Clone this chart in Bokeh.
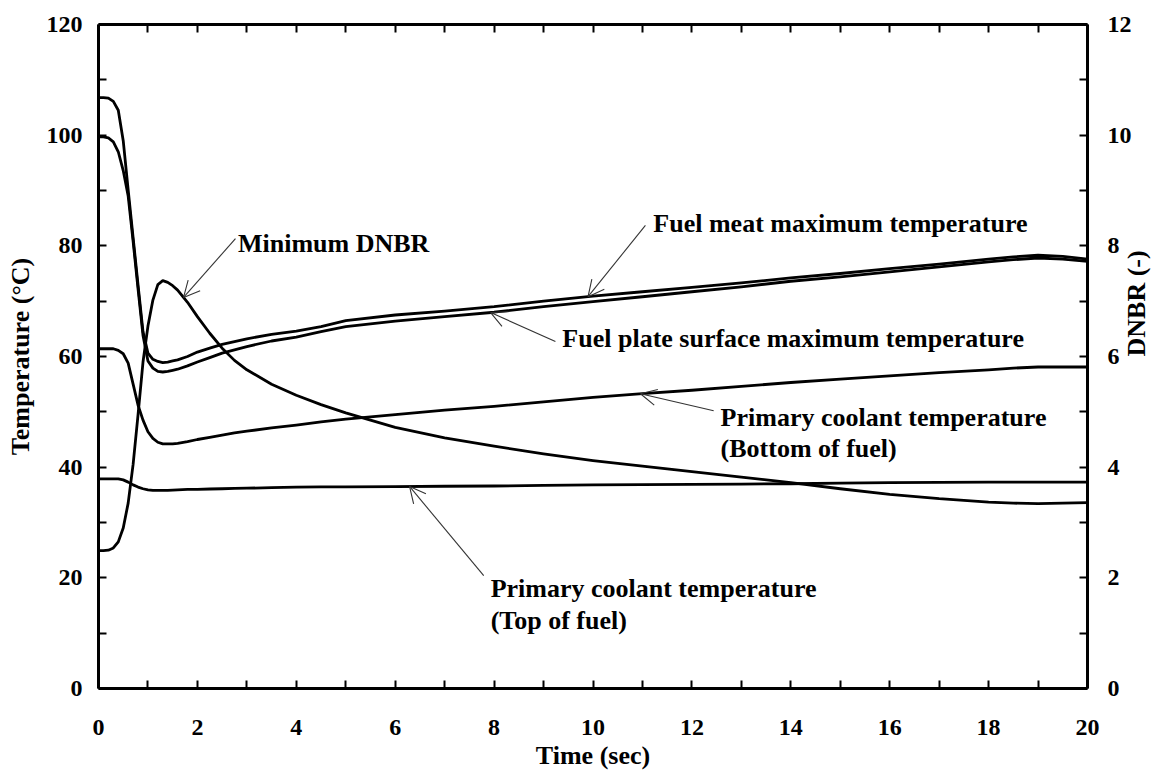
import math
import numpy as np
from bokeh.plotting import figure
from bokeh.models import Range1d, LinearAxis, FixedTicker, Label, Arrow, OpenHead
from bokeh.embed import file_html
from bokeh.resources import INLINE

# ---- transient data -------------------------------------------------------
time_s = [0, 0.1, 0.2, 0.3, 0.4, 0.5, 0.6, 0.7, 0.8, 0.9, 1.0, 1.1, 1.2, 1.3,
          1.4, 1.5, 1.6, 1.8, 2.0, 2.25, 2.5, 2.75, 3.0, 3.5, 4.0, 4.5, 5, 6,
          7, 8, 9, 10, 11, 12, 13, 14, 15, 16, 17, 18, 18.5, 19, 19.5, 20]

fuel_meat_max = [106.8, 106.8, 106.7, 106.1, 104.5, 99.0, 90.1, 81.5, 72.9,
                 64.5, 60.6, 59.5, 59.1, 58.9, 59.0, 59.2, 59.4, 60.0, 60.8,
                 61.5, 62.2, 62.7, 63.2, 64.0, 64.6, 65.4, 66.5, 67.5, 68.2,
                 69.0, 70.0, 70.9, 71.7, 72.5, 73.3, 74.2, 75.0, 75.9, 76.7,
                 77.6, 78.0, 78.3, 78.1, 77.6]

fuel_plate_surface_max = [99.7, 99.7, 99.5, 98.8, 97.0, 93.6, 89.0, 80.8, 72.2,
                          63.8, 59.2, 57.9, 57.3, 57.2, 57.3, 57.5, 57.7, 58.3,
                          59.0, 59.8, 60.6, 61.2, 61.8, 62.8, 63.5, 64.5, 65.4,
                          66.4, 67.2, 68.0, 69.0, 69.9, 70.8, 71.7, 72.6, 73.6,
                          74.4, 75.3, 76.2, 77.1, 77.5, 77.8, 77.6, 77.2]

coolant_bottom = [61.4, 61.4, 61.4, 61.4, 61.1, 60.5, 58.8, 55.0, 51.2, 48.5,
                  46.4, 45.2, 44.5, 44.2, 44.2, 44.2, 44.3, 44.6, 45.0, 45.4,
                  45.8, 46.2, 46.5, 47.1, 47.6, 48.2, 48.7, 49.5, 50.3, 51.0,
                  51.8, 52.6, 53.3, 53.9, 54.6, 55.3, 55.9, 56.5, 57.1, 57.6,
                  57.9, 58.1, 58.1, 58.1]

coolant_top = [37.9, 37.9, 37.9, 37.9, 37.9, 37.7, 37.3, 36.8, 36.4, 36.1,
               35.9, 35.8, 35.8, 35.8, 35.8, 35.85, 35.9, 36.0, 36.0, 36.05,
               36.1, 36.15, 36.2, 36.3, 36.4, 36.45, 36.45, 36.5, 36.55, 36.6,
               36.7, 36.8, 36.85, 36.9, 36.95, 37.0, 37.1, 37.2, 37.25, 37.3,
               37.3, 37.3, 37.3, 37.3]

min_dnbr = [2.49, 2.49, 2.50, 2.54, 2.65, 2.90, 3.35, 4.05, 4.95, 5.90, 6.55,
            7.02, 7.30, 7.37, 7.34, 7.28, 7.20, 6.98, 6.72, 6.42, 6.15, 5.93,
            5.76, 5.50, 5.30, 5.13, 4.98, 4.72, 4.53, 4.38, 4.24, 4.12, 4.02,
            3.92, 3.82, 3.72, 3.61, 3.51, 3.43, 3.37, 3.35, 3.34, 3.35, 3.36]

temp_ticks = [0, 20, 40, 60, 80, 100, 120]
temp_minor = [10, 30, 50, 70, 90, 110]
time_ticks = [0, 2, 4, 6, 8, 10, 12, 14, 16, 18, 20]
time_minor = [1, 3, 5, 7, 9, 11, 13, 15, 17, 19]
time_all = list(range(21))
dnbr_ticks = [0, 2, 4, 6, 8, 10, 12]
dnbr_minor = [1, 3, 5, 7, 9, 11]

FONT = "Liberation Serif"

# ---- figure ---------------------------------------------------------------
p = figure(width=1169, height=772, x_range=Range1d(0, 20), y_range=Range1d(0, 120),
           output_backend="svg", toolbar_location=None,
           min_border_left=98, min_border_right=82,
           min_border_top=24, min_border_bottom=84)
p.extra_y_ranges = {"dnbr": Range1d(0, 12)}
p.xgrid.visible = False
p.ygrid.visible = False
p.outline_line_color = None
p.background_fill_color = "white"
p.border_fill_color = "white"


def style_axis(ax, standoff):
    ax.axis_line_width = 3
    ax.axis_line_color = "black"
    ax.major_tick_in = 8
    ax.major_tick_out = 0
    ax.minor_tick_in = 8
    ax.minor_tick_out = 0
    ax.major_tick_line_width = 2
    ax.minor_tick_line_width = 2
    ax.major_tick_line_color = "black"
    ax.minor_tick_line_color = "black"
    ax.major_label_standoff = standoff
    ax.major_label_text_font = FONT
    ax.major_label_text_font_style = "bold"
    ax.major_label_text_color = "black"
    ax.major_label_text_font_size = "24px"
    ax.axis_label_text_font = FONT
    ax.axis_label_text_font_style = "bold"
    ax.axis_label_text_font_size = "26px"
    ax.axis_label_text_color = "black"


xb = p.xaxis[0]
xb.ticker = FixedTicker(ticks=time_ticks, minor_ticks=time_minor)
style_axis(xb, 31)
xb.axis_label = "Time (sec)"
xb.axis_label_standoff = 3

yl = p.yaxis[0]
yl.ticker = FixedTicker(ticks=temp_ticks, minor_ticks=temp_minor)
style_axis(yl, 16)
yl.axis_label = "Temperature (°C)"
yl.axis_label_standoff = 9

yr = LinearAxis(y_range_name="dnbr",
                ticker=FixedTicker(ticks=dnbr_ticks, minor_ticks=dnbr_minor))
style_axis(yr, 20)
yr.axis_label = "DNBR (-)"
yr.axis_label_standoff = 2
yr.axis_label_orientation = math.pi / 2
p.add_layout(yr, "right")

# top edge: unlabeled tick marks every second
xt = LinearAxis(ticker=FixedTicker(ticks=[], minor_ticks=time_all))
style_axis(xt, 0)
p.add_layout(xt, "above")

# ---- curves ---------------------------------------------------------------
LW = 2.8
for series in (fuel_meat_max, fuel_plate_surface_max, coolant_bottom, coolant_top):
    p.line(time_s, series, line_color="black", line_width=LW, line_join="round")
p.line(time_s, min_dnbr, line_color="black", line_width=LW, line_join="round",
       y_range_name="dnbr")

# ---- annotations ----------------------------------------------------------
TXT = dict(text_font=FONT, text_font_style="bold", text_font_size="26px",
           text_color="black", text_baseline="alphabetic")
ARW = dict(line_width=1.1, line_color="#333333")


def head():
    return OpenHead(size=16, line_width=1.1, line_color="#333333")


def on_curve(t, series):
    return float(np.interp(t, time_s, series))


# Minimum DNBR
t_tip = 1.72
p.add_layout(Arrow(end=head(), x_start=2.77, y_start=8.13, x_end=t_tip,
                   y_end=on_curve(t_tip, min_dnbr), y_range_name="dnbr", **ARW))
p.add_layout(Label(x=2.82, y=80.4, text="Minimum DNBR", **TXT))

# Fuel meat maximum temperature
t_tip = 9.9
p.add_layout(Arrow(end=head(), x_start=11.06, y_start=83.7, x_end=t_tip,
                   y_end=on_curve(t_tip, fuel_meat_max), **ARW))
p.add_layout(Label(x=11.22, y=84.0, text="Fuel meat maximum temperature", **TXT))

# Fuel plate surface maximum temperature
t_tip = 7.93
p.add_layout(Arrow(end=head(), x_start=9.24, y_start=62.7, x_end=t_tip,
                   y_end=on_curve(t_tip, fuel_plate_surface_max), **ARW))
p.add_layout(Label(x=9.38, y=63.3, text="Fuel plate surface maximum temperature", **TXT))

# Primary coolant, bottom of fuel
t_tip = 10.96
p.add_layout(Arrow(end=head(), x_start=12.44, y_start=50.2, x_end=t_tip,
                   y_end=on_curve(t_tip, coolant_bottom), **ARW))
p.add_layout(Label(x=12.58, y=49.0, text="Primary coolant temperature", **TXT))
p.add_layout(Label(x=12.58, y=43.3, text="(Bottom of fuel)", **TXT))

# Primary coolant, top of fuel
t_tip = 6.29
p.add_layout(Arrow(end=head(), x_start=7.79, y_start=20.4, x_end=t_tip,
                   y_end=on_curve(t_tip, coolant_top), **ARW))
p.add_layout(Label(x=7.93, y=18.1, text="Primary coolant temperature", **TXT))
p.add_layout(Label(x=7.93, y=12.3, text="(Top of fuel)", **TXT))

open("out.html", "w").write(file_html(p, INLINE))
